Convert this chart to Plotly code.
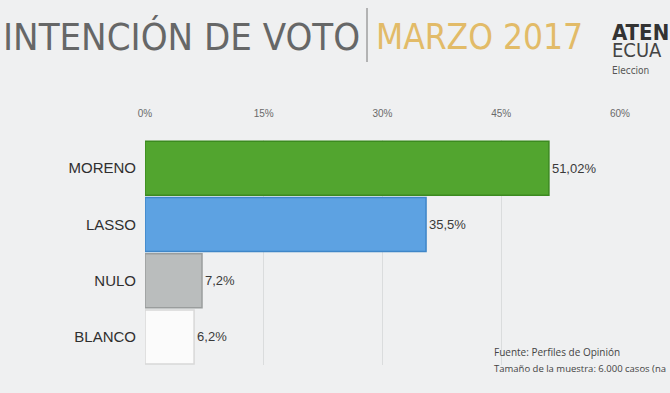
import plotly.graph_objects as go

categories = ["MORENO", "LASSO", "NULO", "BLANCO"]
values = [51.02, 35.5, 7.2, 6.2]
value_labels = ["51,02%", "35,5%", "7,2%", "6,2%"]
bar_colors = ["#52a52f", "#5da2e2", "#babdbd", "#fbfbfb"]
line_colors = ["#3c8a20", "#3f86c8", "#9a9d9d", "#d8d8d8"]
tick_vals = [0, 15, 30, 45, 60]
tick_text = ["0%", "15%", "30%", "45%", "60%"]

L, T, PW, PH = 145, 140, 475, 225


def px(x):
    return (x - L) / PW


def py(y):
    return 1 - (y - T) / PH


fig = go.Figure()
fig.add_trace(go.Bar(
    y=categories, x=values, orientation="h",
    marker=dict(color=bar_colors, line=dict(color=line_colors, width=1.5)),
    text=value_labels, textposition="outside",
    textfont=dict(family="Liberation Sans, Arial", size=13, color="#3a3a3a"),
    cliponaxis=False, width=0.96,
))

fig.update_layout(
    width=670, height=393,
    margin=dict(l=L, r=670 - L - PW, t=T, b=393 - T - PH),
    paper_bgcolor="#eff0f1", plot_bgcolor="rgba(0,0,0,0)",
    showlegend=False,
    xaxis=dict(range=[0, 60], side="top", tickvals=tick_vals, ticktext=tick_text,
               tickfont=dict(family="Liberation Sans, Arial", size=10, color="#6a6a6a"),
               showgrid=True, gridcolor="#dadcdd", gridwidth=1, zeroline=False,
               showline=False, ticks="", ticklabelstandoff=20, fixedrange=True),
    yaxis=dict(autorange="reversed", showgrid=False, zeroline=False, ticks="",
               tickfont=dict(family="Liberation Sans, Arial", size=15, color="#2f2f2f"),
               ticklabelstandoff=8, fixedrange=True),
    font=dict(family="Liberation Sans, Arial"),
)

cond = "DejaVu Sans Condensed, Roboto"

# Title
fig.add_annotation(xref="paper", yref="paper", x=px(1), y=py(37),
                   xanchor="left", yanchor="middle", showarrow=False,
                   text="INTENCIÓN DE VOTO",
                   font=dict(family=cond, size=38, color="#666767"))
fig.add_annotation(xref="paper", yref="paper", x=px(374), y=py(37),
                   xanchor="left", yanchor="middle", showarrow=False,
                   text="MARZO 2017",
                   font=dict(family=cond, size=35, color="#e2bb68"))
fig.add_shape(type="line", xref="paper", yref="paper",
              x0=px(367), x1=px(367), y0=py(8), y1=py(62),
              line=dict(color="#777777", width=1))
# Logo text (visible part, cut by the right edge in the reference)
fig.add_annotation(xref="paper", yref="paper", x=px(610), y=py(48),
                   xanchor="left", yanchor="middle", showarrow=False, align="left",
                   text=("<span style='font-size:22px;color:#333333'><b>ATEN</b></span><br>"
                         "<span style='font-size:20px;color:#444444'>ECUA</span><br>"
                         "<span style='font-size:10px;color:#555555'>Eleccion</span>"),
                   font=dict(family=cond, size=13, color="#444444"))

# Source
fig.add_annotation(xref="paper", yref="paper", x=px(492), y=py(352),
                   xanchor="left", yanchor="middle", showarrow=False,
                   text="Fuente: Perfiles de Opinión",
                   font=dict(family="Open Sans", size=10, color="#444444"))
fig.add_annotation(xref="paper", yref="paper", x=px(492), y=py(368),
                   xanchor="left", yanchor="middle", showarrow=False,
                   text="Tamaño de la muestra: 6.000 casos (na",
                   font=dict(family="Open Sans", size=9.5, color="#444444"))

fig.write_html("out.html", config={"displayModeBar": False},
               post_script="document.body.style.margin='0';")
